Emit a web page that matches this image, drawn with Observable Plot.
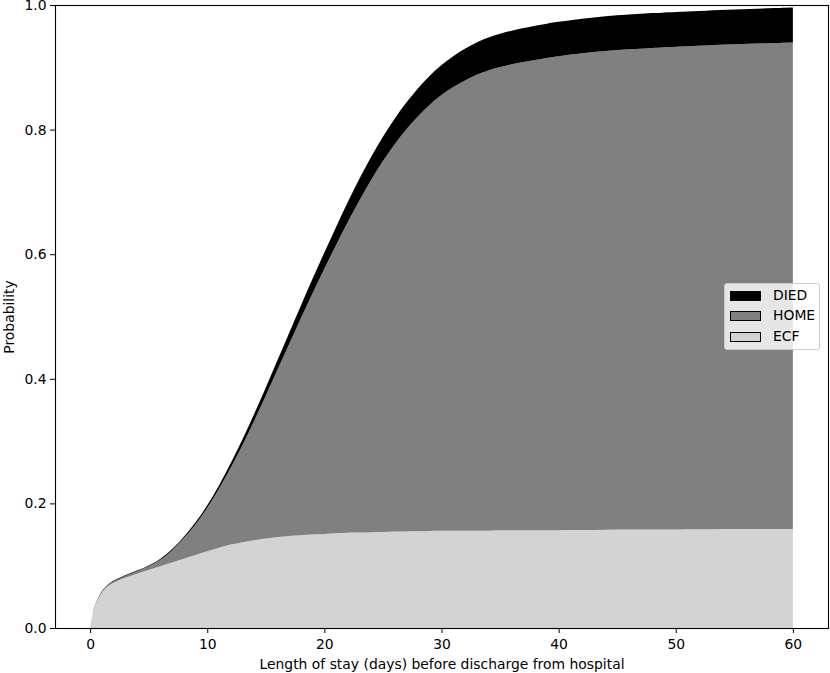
<!DOCTYPE html>
<html>
<head>
<meta charset="utf-8">
<script src="https://cdn.jsdelivr.net/npm/d3@7"></script>
<script src="https://cdn.jsdelivr.net/npm/@observablehq/plot@0.6"></script>
<style>
  html, body { margin: 0; padding: 0; background: white; }
  #wrap { position: relative; width: 830px; height: 673px; font-family: "DejaVu Sans", sans-serif; }
  #legend { position: absolute; left: 724px; top: 283px; width: 96px; height: 67px; box-sizing: border-box;
            border: 1px solid #cccccc; border-radius: 3px; background: rgba(255,255,255,0.8); }
  .row { position: absolute; left: 5px; height: 10px; }
  .sw { position: absolute; left: 0; top: 0; width: 29px; height: 8px; border: 1px solid black; }
  .lb { position: absolute; left: 43px; top: -5px; font-size: 13.9px; line-height: 18px; white-space: nowrap; color: black; }
</style>
</head>
<body>
<div id="wrap"></div>
<script>
// Days (length of stay) and cumulative probability per discharge outcome (stack heights)
const days = [0,0.25,0.5,1,1.5,2,3,4,5,6,7,8,9,10,11,12,13,14,15,16,17,18,19,20,21,22,23,24,25,26,27,28,29,30,31,32,33,34,35,36,37,38,39,40,42,44,46,48,50,55,60];
const ecf  = [0,0.027,0.040,0.058,0.067,0.073,0.081,0.087,0.093,0.099,0.105,0.111,0.117,0.123,0.129,0.134,0.138,0.141,0.144,0.146,0.148,0.149,0.150,0.151,0.152,0.153,0.153,0.154,0.154,0.155,0.155,0.155,0.156,0.156,0.156,0.156,0.156,0.156,0.157,0.157,0.157,0.157,0.157,0.157,0.157,0.158,0.158,0.158,0.158,0.159,0.159];
const home = [0,0.001,0.002,0.0025,0.0025,0.002,0.003,0.004,0.006,0.0095,0.019,0.033,0.049,0.069,0.094,0.123,0.155,0.191,0.229,0.269,0.308,0.349,0.388,0.426,0.463,0.499,0.534,0.566,0.596,0.622,0.646,0.667,0.6845,0.700,0.7125,0.7233,0.7322,0.7393,0.7436,0.748,0.7515,0.755,0.758,0.761,0.7655,0.7685,0.771,0.773,0.775,0.778,0.781];
const died = [0,0,0,0.0005,0.0005,0.001,0.001,0.001,0.001,0.0015,0.002,0.002,0.003,0.004,0.005,0.007,0.009,0.011,0.013,0.015,0.018,0.020,0.023,0.026,0.029,0.032,0.035,0.037,0.039,0.041,0.043,0.045,0.0465,0.048,0.0495,0.0507,0.0518,0.0527,0.0534,0.054,0.0545,0.055,0.055,0.055,0.0555,0.0555,0.056,0.056,0.056,0.056,0.056];
const stackOrder = ["ECF","HOME","DIED"];
const legendOrder = ["DIED","HOME","ECF"];
const xTicks = [0,10,20,30,40,50,60];
const yTicks = [0,0.2,0.4,0.6,0.8,1.0];

const series = {ECF: ecf, HOME: home, DIED: died};
const data = days.flatMap((d, i) => stackOrder.map(c => ({day: d, cause: c, p: series[c][i]})));

const colorRange = ["#000000", "#808080", "#d3d3d3"];

const chart = Plot.plot({
  width: 830,
  height: 673,
  marginLeft: 55,
  marginRight: 2,
  marginTop: 5,
  marginBottom: 45,
  style: {fontFamily: "DejaVu Sans, sans-serif", fontSize: "13.9px", color: "black", background: "white"},
  x: {domain: [-3, 63]},
  y: {domain: [0, 1]},
  color: {domain: legendOrder, range: colorRange},
  marks: [
    Plot.areaY(data, {x: "day", y: "p", fill: "cause", z: "cause", order: stackOrder, curve: "basis"}),
    Plot.frame({stroke: "black", strokeWidth: 1.1}),
    Plot.axisX({ticks: xTicks, tickSize: 5, tickPadding: 6, tickFormat: d => String(d),
      label: "Length of stay (days) before discharge from hospital", labelAnchor: "center", labelArrow: "none", labelOffset: 40, fontSize: 13.9}),
    Plot.axisY({ticks: yTicks, tickSize: 5, tickPadding: 4, tickFormat: d3.format(".1f"),
      label: "Probability", labelAnchor: "center", labelArrow: "none", labelOffset: 51, fontSize: 13.9})
  ]
});

const wrap = document.getElementById("wrap");
wrap.appendChild(chart);

const legend = document.createElement("div");
legend.id = "legend";
legendOrder.forEach((c, i) => {
  const row = document.createElement("div");
  row.className = "row";
  row.style.top = (7 + i * 20.3) + "px";
  const sw = document.createElement("div");
  sw.className = "sw";
  sw.style.background = colorRange[i];
  const lb = document.createElement("div");
  lb.className = "lb";
  lb.textContent = c;
  row.appendChild(sw);
  row.appendChild(lb);
  legend.appendChild(row);
});
wrap.appendChild(legend);
</script>
</body>
</html>
